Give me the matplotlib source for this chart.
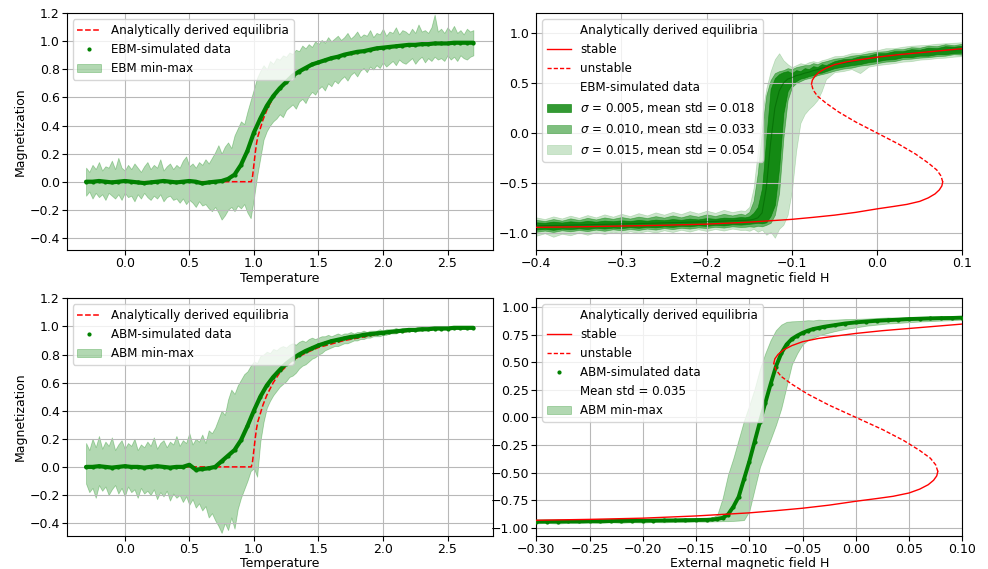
import numpy as np
import matplotlib
matplotlib.use("Agg")
import matplotlib.pyplot as plt
from matplotlib.lines import Line2D

# ---------------- Temperature panels (top-left EBM, bottom-left ABM) ----------------
temp_mean_T = np.linspace(-0.3, 2.7, 61)
temp_band_T = np.linspace(-0.3, 2.7, 121)

ebm_mean = [0.0, 0.0, 0.005, 0.0, -0.005, 0.0, 0.005, 0.0, -0.005, -0.01,
            -0.005, 0.0, 0.005, 0.0, -0.005, 0.0, 0.005, 0.0, -0.012, -0.005, 0.0,
            0.005, 0.02, 0.05, 0.12, 0.22, 0.35, 0.45, 0.54, 0.61, 0.665,
            0.71, 0.755, 0.785, 0.81, 0.835, 0.85, 0.865, 0.88, 0.89, 0.905,
            0.915, 0.925, 0.93, 0.94, 0.95, 0.955, 0.96, 0.965, 0.97, 0.975,
            0.975, 0.98, 0.98, 0.985, 0.985, 0.985, 0.99, 0.99, 0.99, 0.99]

ebm_upper = [0.10, 0.07, 0.12, 0.09, 0.14, 0.08, 0.11, 0.10, 0.15, 0.09,
             0.17, 0.10, 0.08, 0.12, 0.09, 0.13, 0.10, 0.07, 0.11, 0.14,
             0.09, 0.12, 0.10, 0.16, 0.08, 0.11, 0.13, 0.09, 0.12, 0.10,
             0.15, 0.18, 0.11, 0.13, 0.10, 0.14, 0.12, 0.16, 0.13, 0.17,
             0.21, 0.26, 0.20, 0.25, 0.28, 0.24, 0.33, 0.38, 0.43, 0.41,
             0.50, 0.58, 0.66, 0.74, 0.79, 0.83, 0.80, 0.86, 0.84, 0.88,
             0.87, 0.90, 0.89, 0.92, 0.91, 0.94, 0.93, 0.97, 0.95, 0.98,
             0.96, 1.00, 0.98, 1.01, 0.99, 1.03, 1.00, 1.02, 1.04, 1.01,
             1.03, 1.06, 1.02, 1.04, 1.07, 1.03, 1.05, 1.04, 1.08, 1.03,
             1.06, 1.05, 1.09, 1.04, 1.07, 1.06, 1.10, 1.05, 1.08, 1.07,
             1.05, 1.09, 1.06, 1.12, 1.07, 1.08, 1.06, 1.10, 1.19, 1.07,
             1.09, 1.06, 1.10, 1.07, 1.11, 1.06, 1.08, 1.05, 1.09, 1.07,
             1.08]

ebm_lower = [-0.10, -0.07, -0.12, -0.08, -0.11, -0.09, -0.13, -0.08, -0.10, -0.12,
             -0.09, -0.13, -0.08, -0.11, -0.10, -0.14, -0.09, -0.12, -0.08, -0.11,
             -0.13, -0.10, -0.12, -0.09, -0.14, -0.11, -0.10, -0.13, -0.12, -0.15,
             -0.12, -0.16, -0.13, -0.15, -0.18, -0.14, -0.17, -0.16, -0.19, -0.21,
             -0.18, -0.22, -0.27, -0.24, -0.20, -0.18, -0.21, -0.17, -0.19, -0.16,
             -0.22, -0.26, -0.12, 0.04, 0.17, 0.30, 0.36, 0.40, 0.43, 0.45,
             0.48, 0.46, 0.51, 0.53, 0.55, 0.52, 0.57, 0.59, 0.56, 0.61,
             0.64, 0.62, 0.66, 0.68, 0.65, 0.70, 0.68, 0.72, 0.70, 0.73,
             0.75, 0.72, 0.76, 0.78, 0.75, 0.79, 0.81, 0.78, 0.82, 0.80,
             0.83, 0.81, 0.85, 0.82, 0.84, 0.86, 0.83, 0.87, 0.85, 0.84,
             0.86, 0.88, 0.84, 0.87, 0.89, 0.85, 0.88, 0.86, 0.89, 0.87,
             0.88, 0.86, 0.90, 0.87, 0.89, 0.86, 0.90, 0.88, 0.87, 0.89,
             0.90]

abm_mean = [0.0, 0.0, 0.005, 0.0, -0.005, 0.0, 0.005, 0.0, 0.0, -0.005,
            0.0, 0.005, 0.0, -0.005, 0.0, 0.0, 0.015, -0.02, -0.015, -0.01, 0.0,
            0.04, 0.08, 0.12, 0.19, 0.29, 0.40, 0.50, 0.58, 0.64, 0.69,
            0.735, 0.77, 0.80, 0.825, 0.845, 0.865, 0.88, 0.895, 0.905, 0.915,
            0.925, 0.93, 0.94, 0.945, 0.95, 0.955, 0.96, 0.965, 0.97, 0.975,
            0.975, 0.98, 0.98, 0.985, 0.985, 0.985, 0.99, 0.99, 0.99, 0.99]

abm_upper = [0.17, 0.12, 0.20, 0.14, 0.22, 0.13, 0.18, 0.15, 0.21, 0.12,
             0.16, 0.19, 0.13, 0.17, 0.15, 0.20, 0.12, 0.16, 0.14, 0.18,
             0.15, 0.21, 0.13, 0.17, 0.19, 0.14, 0.18, 0.16, 0.22, 0.15,
             0.19, 0.17, 0.24, 0.16, 0.20, 0.18, 0.23, 0.17, 0.26, 0.24,
             0.28, 0.34, 0.40, 0.37, 0.48, 0.55, 0.52, 0.58, 0.62, 0.66,
             0.68, 0.72, 0.75, 0.74, 0.79, 0.80, 0.82, 0.81, 0.84, 0.83,
             0.85, 0.86, 0.85, 0.87, 0.88, 0.87, 0.89, 0.90, 0.89, 0.91,
             0.92, 0.91, 0.92, 0.93, 0.93, 0.94, 0.93, 0.94, 0.95, 0.94,
             0.95, 0.95, 0.96, 0.95, 0.96, 0.96, 0.97, 0.96, 0.97, 0.97,
             0.97, 0.98, 0.97, 0.98, 0.98, 0.98, 0.99, 0.98, 0.99, 0.99,
             0.99, 0.99, 0.99, 1.00, 0.99, 1.00, 0.99, 1.00, 1.00, 0.99,
             1.00, 1.00, 0.99, 1.00, 1.00, 1.00, 1.00, 1.00, 1.00, 1.00,
             1.00]

abm_lower = [-0.12, -0.18, -0.15, -0.22, -0.13, -0.17, -0.14, -0.20, -0.16, -0.13,
             -0.19, -0.15, -0.21, -0.14, -0.18, -0.16, -0.22, -0.15, -0.19, -0.17,
             -0.20, -0.16, -0.23, -0.18, -0.21, -0.17, -0.24, -0.19, -0.22, -0.20,
             -0.25, -0.21, -0.27, -0.23, -0.29, -0.26, -0.31, -0.28, -0.36, -0.33,
             -0.38, -0.42, -0.47, -0.40, -0.45, -0.36, -0.44, -0.30, -0.22, -0.16,
             -0.10, -0.03, -0.01, -0.07, 0.18, 0.32, 0.42, 0.47, 0.51, 0.54,
             0.57, 0.59, 0.61, 0.64, 0.65, 0.67, 0.70, 0.72, 0.73, 0.75,
             0.77, 0.78, 0.80, 0.81, 0.83, 0.84, 0.85, 0.86, 0.86, 0.87,
             0.88, 0.88, 0.89, 0.90, 0.90, 0.91, 0.91, 0.92, 0.92, 0.93,
             0.93, 0.93, 0.94, 0.94, 0.95, 0.95, 0.95, 0.96, 0.96, 0.96,
             0.965, 0.97, 0.97, 0.97, 0.97, 0.975, 0.975, 0.98, 0.98, 0.98,
             0.98, 0.98, 0.985, 0.985, 0.985, 0.985, 0.985, 0.985, 0.985, 0.985,
             0.985]

eq_T = [-0.3, 0.98, 0.99, 1.0, 1.01, 1.02, 1.03, 1.05, 1.07, 1.1, 1.15, 1.2,
        1.3, 1.4, 1.5, 1.7, 2.0, 2.3, 2.7]
eq_m = [0.0, 0.0, 0.04, 0.12, 0.20, 0.27, 0.32, 0.38, 0.44, 0.51, 0.60, 0.67,
        0.76, 0.81, 0.85, 0.90, 0.95, 0.975, 0.99]

# ---------------- Analytic S-curve (hysteresis panels) ----------------
stable_up_H = [-0.077, -0.076, -0.073, -0.068, -0.06, -0.05, -0.035, -0.02, 0.0,
               0.025, 0.05, 0.075, 0.10]
stable_up_m = [0.49, 0.53, 0.57, 0.61, 0.65, 0.685, 0.715, 0.735, 0.76,
               0.785, 0.805, 0.825, 0.845]
stable_low_H = [-0.40, -0.35, -0.30, -0.25, -0.20, -0.15, -0.10, -0.075, -0.05,
                -0.025, 0.0, 0.02, 0.035, 0.05, 0.06, 0.068, 0.073, 0.076, 0.077]
stable_low_m = [-0.945, -0.94, -0.932, -0.924, -0.913, -0.893, -0.865, -0.845, -0.823,
                -0.795, -0.76, -0.735, -0.715, -0.685, -0.65, -0.61, -0.57, -0.53, -0.49]
unstable_H = [0.077, 0.075, 0.07, 0.06, 0.045, 0.025, 0.0, -0.025, -0.045, -0.06,
              -0.07, -0.075, -0.077]
unstable_m = [-0.49, -0.43, -0.37, -0.30, -0.21, -0.11, 0.0, 0.11, 0.21, 0.30,
              0.37, 0.43, 0.49]

# ---------------- EBM hysteresis (top-right), three noise levels ----------------
ebm_H = np.concatenate([np.linspace(-0.40, -0.16, 25),
                        np.linspace(-0.155, -0.06, 20),
                        np.linspace(-0.05, 0.10, 16)])

ebm_h_mean = [-0.930, -0.928, -0.927, -0.925, -0.923, -0.921, -0.919, -0.917, -0.915, -0.913,
              -0.911, -0.909, -0.907, -0.905, -0.903, -0.900, -0.898, -0.896, -0.893, -0.891,
              -0.888, -0.885, -0.882, -0.879, -0.876,
              -0.875, -0.872, -0.865, -0.85, -0.80, -0.55, -0.10, 0.25, 0.42, 0.50,
              0.54, 0.555, 0.575, 0.585, 0.60, 0.61, 0.625, 0.635, 0.65, 0.66,
              0.685, 0.70, 0.715, 0.73, 0.745, 0.76, 0.77, 0.78, 0.79, 0.80,
              0.805, 0.815, 0.82, 0.83, 0.835, 0.84]

s005_upper = [-0.895, -0.900, -0.888, -0.897, -0.885, -0.893, -0.880, -0.889, -0.878, -0.884,
              -0.875, -0.882, -0.871, -0.879, -0.868, -0.874, -0.862, -0.870, -0.858, -0.866,
              -0.852, -0.860, -0.848, -0.851, -0.842,
              -0.845, -0.835, -0.80, -0.74, -0.55, -0.05, 0.44, 0.55, 0.59, 0.61,
              0.62, 0.60, 0.63, 0.62, 0.65, 0.64, 0.67, 0.66, 0.69, 0.68,
              0.72, 0.74, 0.745, 0.77, 0.775, 0.80, 0.80, 0.82, 0.82, 0.84,
              0.835, 0.855, 0.85, 0.87, 0.865, 0.875]
s005_lower = [-0.968, -0.960, -0.970, -0.958, -0.963, -0.955, -0.962, -0.950, -0.957, -0.948,
              -0.953, -0.943, -0.950, -0.940, -0.945, -0.936, -0.941, -0.930, -0.935, -0.925,
              -0.931, -0.920, -0.926, -0.915, -0.918,
              -0.915, -0.91, -0.905, -0.90, -0.905, -0.895, -0.83, -0.72, -0.35, 0.20,
              0.42, 0.49, 0.52, 0.545, 0.555, 0.57, 0.58, 0.60, 0.605, 0.62,
              0.65, 0.665, 0.68, 0.69, 0.71, 0.72, 0.735, 0.74, 0.76, 0.76,
              0.775, 0.775, 0.79, 0.79, 0.80, 0.805]

s010_upper = [-0.870, -0.882, -0.862, -0.878, -0.855, -0.872, -0.850, -0.866, -0.846, -0.860,
              -0.842, -0.857, -0.838, -0.852, -0.833, -0.848, -0.826, -0.845, -0.822, -0.838,
              -0.815, -0.832, -0.810, -0.826, -0.808,
              -0.82, -0.79, -0.68, -0.40, 0.05, 0.38, 0.53, 0.60, 0.62, 0.63,
              0.65, 0.64, 0.66, 0.67, 0.68, 0.68, 0.70, 0.69, 0.71, 0.72,
              0.745, 0.755, 0.775, 0.785, 0.80, 0.815, 0.82, 0.84, 0.84, 0.86,
              0.855, 0.875, 0.87, 0.89, 0.88, 0.895]
s010_lower = [-0.990, -0.978, -0.992, -0.975, -0.985, -0.972, -0.983, -0.968, -0.980, -0.965,
              -0.975, -0.962, -0.972, -0.958, -0.968, -0.953, -0.963, -0.950, -0.958, -0.946,
              -0.952, -0.940, -0.948, -0.935, -0.942,
              -0.94, -0.935, -0.94, -0.93, -0.935, -0.92, -0.90, -0.82, -0.60, -0.05,
              0.33, 0.46, 0.50, 0.52, 0.54, 0.55, 0.56, 0.58, 0.59, 0.60,
              0.625, 0.645, 0.655, 0.675, 0.685, 0.70, 0.715, 0.72, 0.74, 0.745,
              0.755, 0.76, 0.77, 0.775, 0.79, 0.785]

s015_upper = [-0.845, -0.862, -0.835, -0.856, -0.828, -0.850, -0.822, -0.845, -0.815, -0.838,
              -0.810, -0.832, -0.803, -0.826, -0.795, -0.818, -0.790, -0.812, -0.782, -0.806,
              -0.778, -0.800, -0.770, -0.792, -0.775,
              -0.78, -0.74, -0.55, -0.18, 0.20, 0.45, 0.62, 0.74, 0.80, 0.73,
              0.69, 0.66, 0.68, 0.70, 0.69, 0.71, 0.72, 0.71, 0.73, 0.74,
              0.77, 0.775, 0.80, 0.80, 0.825, 0.83, 0.85, 0.85, 0.865, 0.875,
              0.88, 0.885, 0.895, 0.90, 0.905, 0.91]
s015_lower = [-1.030, -1.005, -1.040, -1.010, -1.025, -0.998, -1.020, -0.995, -1.012, -0.990,
              -1.008, -0.985, -1.002, -0.980, -0.998, -0.975, -0.992, -0.970, -0.988, -0.965,
              -0.982, -0.962, -0.978, -0.958, -0.972,
              -0.97, -0.98, -0.96, -0.99, -0.97, -1.02, -0.99, -1.05, -0.96, -0.92,
              -0.82, -0.58, -0.18, 0.10, 0.19, 0.24, 0.28, 0.33, 0.42, 0.54,
              0.61, 0.62, 0.64, 0.60, 0.665, 0.68, 0.69, 0.70, 0.715, 0.72,
              0.735, 0.74, 0.75, 0.755, 0.765, 0.77]

# ---------------- ABM hysteresis (bottom-right) ----------------
abm_H = np.concatenate([np.linspace(-0.30, -0.14, 17),
                        np.linspace(-0.135, -0.03, 22),
                        np.linspace(-0.02, 0.10, 13)])

abm_h_mean = [-0.945, -0.944, -0.944, -0.943, -0.942, -0.941, -0.940, -0.939, -0.938, -0.937,
              -0.936, -0.935, -0.934, -0.933, -0.931, -0.930, -0.928,
              -0.925, -0.92, -0.91, -0.88, -0.81, -0.72, -0.56, -0.40, -0.22, -0.04,
              0.13, 0.30, 0.46, 0.58, 0.66, 0.71, 0.74, 0.765, 0.785, 0.80,
              0.81, 0.82,
              0.835, 0.85, 0.86, 0.868, 0.875, 0.88, 0.885, 0.89, 0.893, 0.896,
              0.899, 0.90, 0.903]
abm_h_upper = [-0.928, -0.935, -0.926, -0.932, -0.925, -0.930, -0.922, -0.928, -0.920, -0.926,
               -0.918, -0.924, -0.917, -0.921, -0.915, -0.918, -0.912,
               -0.91, -0.88, -0.73, -0.52, -0.37, -0.20, -0.03, 0.11, 0.26, 0.44,
               0.58, 0.70, 0.79, 0.84, 0.865, 0.87, 0.872, 0.875, 0.88, 0.878,
               0.885, 0.882,
               0.885, 0.89, 0.892, 0.895, 0.90, 0.905, 0.903, 0.91, 0.912, 0.915,
               0.913, 0.918, 0.92]
abm_h_lower = [-0.960, -0.956, -0.962, -0.955, -0.958, -0.953, -0.957, -0.951, -0.955, -0.950,
               -0.953, -0.948, -0.951, -0.946, -0.949, -0.944, -0.945,
               -0.943, -0.942, -0.94, -0.94, -0.938, -0.935, -0.93, -0.85, -0.65, -0.45,
               -0.32, -0.20, -0.07, 0.08, 0.28, 0.48, 0.58, 0.66, 0.70, 0.72,
               0.74, 0.755,
               0.78, 0.80, 0.815, 0.83, 0.84, 0.85, 0.855, 0.862, 0.868, 0.872,
               0.876, 0.88, 0.885]

# ---------------- Drawing ----------------
plt.rcParams['font.family'] = ['DejaVu Sans']
plt.rcParams['font.size'] = 9
plt.rcParams['xtick.major.pad'] = 1.5
plt.rcParams['ytick.major.pad'] = 1.5
LEG_FS = 8.6
GREEN = 'green'
RED = 'red'

fig = plt.figure(figsize=(9.88, 5.69), dpi=100)
ax_tl = fig.add_axes([0.0675, 0.5598, 0.4312, 0.4169])
ax_tr = fig.add_axes([0.5428, 0.5598, 0.4312, 0.4169])
ax_bl = fig.add_axes([0.0675, 0.0585, 0.4312, 0.4172])
ax_br = fig.add_axes([0.5428, 0.0585, 0.4312, 0.4172])


def temp_panel(ax, mean, lower, upper, name):
    ax.grid(True, color='#b8b8b8', linewidth=0.8)
    l_eq, = ax.plot(eq_T, eq_m, '--', color=RED, lw=1.1, zorder=2,
                    label='Analytically derived equilibria')
    ax.plot(temp_mean_T, mean, '-', color=GREEN, lw=3.0, zorder=3,
            solid_capstyle='round')
    l_dat, = ax.plot(temp_mean_T, mean, '.', color=GREEN, ms=4, zorder=3,
                     label=f'{name}-simulated data')
    band = ax.fill_between(temp_band_T, lower, upper, color=GREEN, alpha=0.3,
                           lw=0.6, label=f'{name} min-max')
    ax.set_xlim(-0.45, 2.85)
    ax.set_ylim(-0.49, 1.2)
    ax.set_xticks([0.0, 0.5, 1.0, 1.5, 2.0, 2.5])
    ax.set_yticks([-0.4, -0.2, 0.0, 0.2, 0.4, 0.6, 0.8, 1.0, 1.2])
    ax.set_xlabel('Temperature', labelpad=1)
    ax.set_ylabel('Magnetization', labelpad=2)
    ax.legend(handles=[l_eq, l_dat, band], loc='upper left', fontsize=LEG_FS)


temp_panel(ax_tl, ebm_mean, ebm_lower, ebm_upper, 'EBM')
temp_panel(ax_bl, abm_mean, abm_lower, abm_upper, 'ABM')


def s_curve(ax):
    l_st, = ax.plot(stable_low_H, stable_low_m, '-', color=RED, lw=1.0, zorder=4,
                    label='stable')
    ax.plot(stable_up_H, stable_up_m, '-', color=RED, lw=1.0, zorder=4)
    l_un, = ax.plot(unstable_H, unstable_m, '--', color=RED, lw=1.0, zorder=4,
                    dashes=(3, 1.5), label='unstable')
    return l_st, l_un


# top-right
ax = ax_tr
ax.grid(True, color='#b8b8b8', linewidth=0.8)
b3 = ax.fill_between(ebm_H, s015_lower, s015_upper, color=GREEN, alpha=0.2, lw=0.5,
                     label=r'$\sigma$ = 0.015, mean std = 0.054')
b2 = ax.fill_between(ebm_H, s010_lower, s010_upper, color=GREEN, alpha=0.5, lw=0.5,
                     label=r'$\sigma$ = 0.010, mean std = 0.033')
b1 = ax.fill_between(ebm_H, s005_lower, s005_upper, color=GREEN, alpha=0.8, lw=0.5,
                     label=r'$\sigma$ = 0.005, mean std = 0.018')
ax.plot(ebm_H, ebm_h_mean, '-', color='darkgreen', lw=0.8, alpha=0.6, zorder=3)
l_st, l_un = s_curve(ax)
h_title1 = Line2D([], [], color='none', label='Analytically derived equilibria')
h_title2 = Line2D([], [], color='none', label='EBM-simulated data')
ax.legend(handles=[h_title1, l_st, l_un, h_title2, b1, b2, b3], loc='upper left',
          fontsize=LEG_FS)
ax.set_xlim(-0.4, 0.1)
ax.set_ylim(-1.177, 1.2)
ax.set_xticks([-0.4, -0.3, -0.2, -0.1, 0.0, 0.1])
ax.set_yticks([-1.0, -0.5, 0.0, 0.5, 1.0])
ax.set_xlabel('External magnetic field H', labelpad=1)

# bottom-right
ax = ax_br
ax.grid(True, color='#b8b8b8', linewidth=0.8)
bb = ax.fill_between(abm_H, abm_h_lower, abm_h_upper, color=GREEN, alpha=0.3, lw=0.6,
                     label='ABM min-max')
ax.plot(abm_H, abm_h_mean, '-', color=GREEN, lw=2.8, zorder=3, solid_capstyle='round')
l_d, = ax.plot(abm_H, abm_h_mean, '.', color=GREEN, ms=4, zorder=3,
               label='ABM-simulated data')
l_st, l_un = s_curve(ax)
h_title1 = Line2D([], [], color='none', label='Analytically derived equilibria')
h_std = Line2D([], [], color='none', label='Mean std = 0.035')
ax.legend(handles=[h_title1, l_st, l_un, l_d, h_std, bb], loc='upper left',
          fontsize=LEG_FS)
ax.set_xlim(-0.3, 0.1)
ax.set_ylim(-1.072, 1.078)
ax.set_xticks([-0.30, -0.25, -0.20, -0.15, -0.10, -0.05, 0.00, 0.05, 0.10])
ax.set_yticks([-1.0, -0.75, -0.5, -0.25, 0.0, 0.25, 0.5, 0.75, 1.0])
ax.set_xlabel('External magnetic field H', labelpad=1)

fig.savefig('out.png', dpi=100)
